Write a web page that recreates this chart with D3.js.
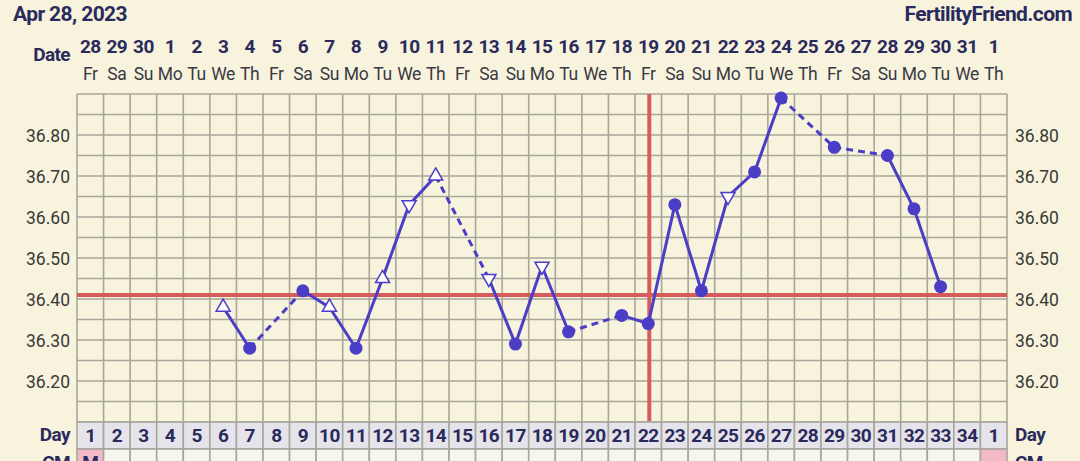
<!DOCTYPE html>
<html>
<head>
	<meta charset="utf-8">
	<script src="https://cdn.jsdelivr.net/npm/d3@7"></script>
	<style type="text/css">
		body { margin: 0; padding: 0; background: #f7f3dc; overflow: hidden; }
		svg { display: block; font-family: Roboto, "Noto Sans", sans-serif; }
	</style>
</head>
<body>
	<script type="text/javascript">

		// calendar header
		var dates = [28,29,30,1,2,3,4,5,6,7,8,9,10,11,12,13,14,15,16,17,18,19,20,21,22,23,24,25,26,27,28,29,30,31,1];
		var weekdays = ["Fr","Sa","Su","Mo","Tu","We","Th","Fr","Sa","Su","Mo","Tu","We","Th","Fr","Sa","Su","Mo","Tu","We","Th",
			"Fr","Sa","Su","Mo","Tu","We","Th","Fr","Sa","Su","Mo","Tu","We","Th"];
		var cycleDays = [1,2,3,4,5,6,7,8,9,10,11,12,13,14,15,16,17,18,19,20,21,22,23,24,25,26,27,28,29,30,31,32,33,34,1];

		// temperatures per column (null = no reading) and marker kind
		var temps = [null,null,null,null,null,36.38,36.28,null,36.42,36.38,36.28,36.45,36.63,36.70,null,36.45,36.29,36.48,36.32,null,
			36.36,36.34,36.63,36.42,36.65,36.71,36.89,null,36.77,null,36.75,36.62,36.43,null,null];
		var markers = [null,null,null,null,null,"up","dot",null,"dot","up","dot","up","down","up",null,"down","dot","down","dot",null,
			"dot","dot","dot","dot","down","dot","dot",null,"dot",null,"dot","dot","dot",null,null];

		var yTicks = [36.20,36.30,36.40,36.50,36.60,36.70,36.80];
		var coverline = 36.41;
		var ovulationDay = 22;
		var cmLabels = ["M"];

		var W = 1080, H = 461;
		var gLeft = 77, gRight = 1007, gTop = 94, gBottom = 422;
		var navy = "#2b2a5c", purple = "#4a3dc6", red = "#d65b5b", gridc = "#a9a69b";

		var svg = d3.select("body").append("svg").attr("width", W).attr("height", H);

		var x = d3.scaleBand().domain(d3.range(dates.length)).range([gLeft, gRight]).padding(0);
		var y = d3.scaleLinear().domain([36.10, 36.90]).range([gBottom, gTop]);

		function boldText(sel, size){
			return sel.attr("fill", navy).style("font-size", size + "px").style("font-weight", "bold")
				.style("letter-spacing", "-0.6px");
		}

		// title texts
		boldText(svg.append("text").attr("x", 13).attr("y", 21), 21).text("Apr 28, 2023");
		boldText(svg.append("text").attr("x", 1072).attr("y", 21).attr("text-anchor", "end"), 21).text("FertilityFriend.com");

		// date header
		boldText(svg.append("text").attr("x", 70).attr("y", 61).attr("text-anchor", "end"), 19).text("Date");
		boldText(svg.selectAll("text.date").data(dates).enter().append("text").attr("class", "date")
			.attr("x", function(d, i){ return x(i) + x.bandwidth() / 2; }).attr("y", 53)
			.attr("text-anchor", "middle"), 19)
			.text(function(d){ return d; });
		svg.selectAll("text.wd").data(weekdays).enter().append("text").attr("class", "wd")
			.attr("x", function(d, i){ return x(i) + x.bandwidth() / 2; }).attr("y", 80)
			.attr("text-anchor", "middle").attr("fill", "#3a3a44")
			.style("font-size", "17.5px").style("letter-spacing", "-0.3px")
			.text(function(d){ return d; });

		// chart grid
		var hLines = d3.range(0, 17).map(function(k){ return 36.10 + k * 0.05; });
		svg.selectAll("line.h").data(hLines).enter().append("line").attr("class", "h")
			.attr("x1", gLeft).attr("x2", gRight)
			.attr("y1", function(d){ return y(d); }).attr("y2", function(d){ return y(d); })
			.attr("stroke", gridc).attr("stroke-width", 1.6);
		svg.selectAll("line.v").data(d3.range(dates.length + 1)).enter().append("line").attr("class", "v")
			.attr("x1", function(i){ return gLeft + i * x.bandwidth(); }).attr("x2", function(i){ return gLeft + i * x.bandwidth(); })
			.attr("y1", gTop).attr("y2", gBottom)
			.attr("stroke", gridc).attr("stroke-width", 1.6);

		// y labels both sides
		svg.selectAll("text.yl").data(yTicks).enter().append("text").attr("class", "yl")
			.attr("x", 70).attr("y", function(d){ return y(d) + 6.5; }).attr("text-anchor", "end")
			.attr("fill", "#3a3a3a").style("font-size", "17.5px")
			.text(function(d){ return d.toFixed(2); });
		svg.selectAll("text.yr").data(yTicks).enter().append("text").attr("class", "yr")
			.attr("x", 1015).attr("y", function(d){ return y(d) + 6.5; })
			.attr("fill", "#3a3a3a").style("font-size", "17.5px")
			.text(function(d){ return d.toFixed(2); });

		// day row
		var dayTop = gBottom, dayH = 27;
		svg.selectAll("rect.day").data(cycleDays).enter().append("rect").attr("class", "day")
			.attr("x", function(d, i){ return x(i); }).attr("y", dayTop)
			.attr("width", x.bandwidth()).attr("height", dayH)
			.attr("fill", "#e4e4ea").attr("stroke", gridc).attr("stroke-width", 1.6);
		boldText(svg.selectAll("text.day").data(cycleDays).enter().append("text").attr("class", "day")
			.attr("x", function(d, i){ return x(i) + x.bandwidth() / 2; }).attr("y", dayTop + 20)
			.attr("text-anchor", "middle"), 19)
			.text(function(d){ return d; });
		boldText(svg.append("text").attr("x", 70).attr("y", dayTop + 19).attr("text-anchor", "end"), 19).text("Day");
		boldText(svg.append("text").attr("x", 1015).attr("y", dayTop + 19), 19).text("Day");

		// CM row (cut off by the window)
		var cmTop = dayTop + dayH;
		svg.selectAll("rect.cm").data(cycleDays).enter().append("rect").attr("class", "cm")
			.attr("x", function(d, i){ return x(i); }).attr("y", cmTop)
			.attr("width", x.bandwidth()).attr("height", 30)
			.attr("fill", function(d, i){ return (i == 0 || i == cycleDays.length - 1) ? "#f2b9c9" : "#f6f6f0"; })
			.attr("stroke", gridc).attr("stroke-width", 1.6);
		boldText(svg.append("text").attr("x", x(0) + x.bandwidth() / 2).attr("y", cmTop + 20)
			.attr("text-anchor", "middle"), 19).text(cmLabels[0]);
		boldText(svg.append("text").attr("x", 70).attr("y", cmTop + 20).attr("text-anchor", "end"), 19).text("CM");
		boldText(svg.append("text").attr("x", 1015).attr("y", cmTop + 20), 19).text("CM");

		// coverline and ovulation line
		svg.append("line").attr("x1", gLeft).attr("x2", gRight).attr("y1", y(coverline)).attr("y2", y(coverline))
			.attr("stroke", red).attr("stroke-width", 4);
		var ox = x(ovulationDay - 1) + x.bandwidth() / 2 + 1;
		svg.append("line").attr("x1", ox).attr("x2", ox).attr("y1", gTop).attr("y2", gBottom - 1)
			.attr("stroke", red).attr("stroke-width", 4);

		// temperature points
		var pts = [];
		temps.forEach(function(t, i){ if (t != null) pts.push({i: i, t: t, m: markers[i]}); });

		var segs = [];
		for (var k = 1; k < pts.length; k++) {
			segs.push({a: pts[k-1], b: pts[k], dashed: pts[k].i - pts[k-1].i > 1});
		}
		function cx(p){ return x(p.i) + x.bandwidth() / 2; }
		svg.selectAll("line.seg").data(segs).enter().append("line").attr("class", "seg")
			.attr("x1", function(d){ return cx(d.a); }).attr("y1", function(d){ return y(d.a.t); })
			.attr("x2", function(d){ return cx(d.b); }).attr("y2", function(d){ return y(d.b.t); })
			.attr("stroke", purple).attr("stroke-width", 3)
			.attr("stroke-dasharray", function(d){ return d.dashed ? "7,5" : null; });

		svg.selectAll("circle.pt").data(pts.filter(function(p){ return p.m == "dot"; })).enter()
			.append("circle").attr("class", "pt")
			.attr("cx", cx).attr("cy", function(d){ return y(d.t); }).attr("r", 6.5)
			.attr("fill", purple);

		var tri = d3.symbol().type(d3.symbolTriangle).size(85);
		svg.selectAll("path.tri").data(pts.filter(function(p){ return p.m == "up" || p.m == "down"; })).enter()
			.append("path").attr("class", "tri")
			.attr("d", tri)
			.attr("transform", function(d){
				return "translate(" + cx(d) + "," + y(d.t) + ")" + (d.m == "down" ? " rotate(180)" : "");
			})
			.attr("fill", "#ffffff").attr("stroke", purple).attr("stroke-width", 1.5);

	</script>
</body>
</html>
